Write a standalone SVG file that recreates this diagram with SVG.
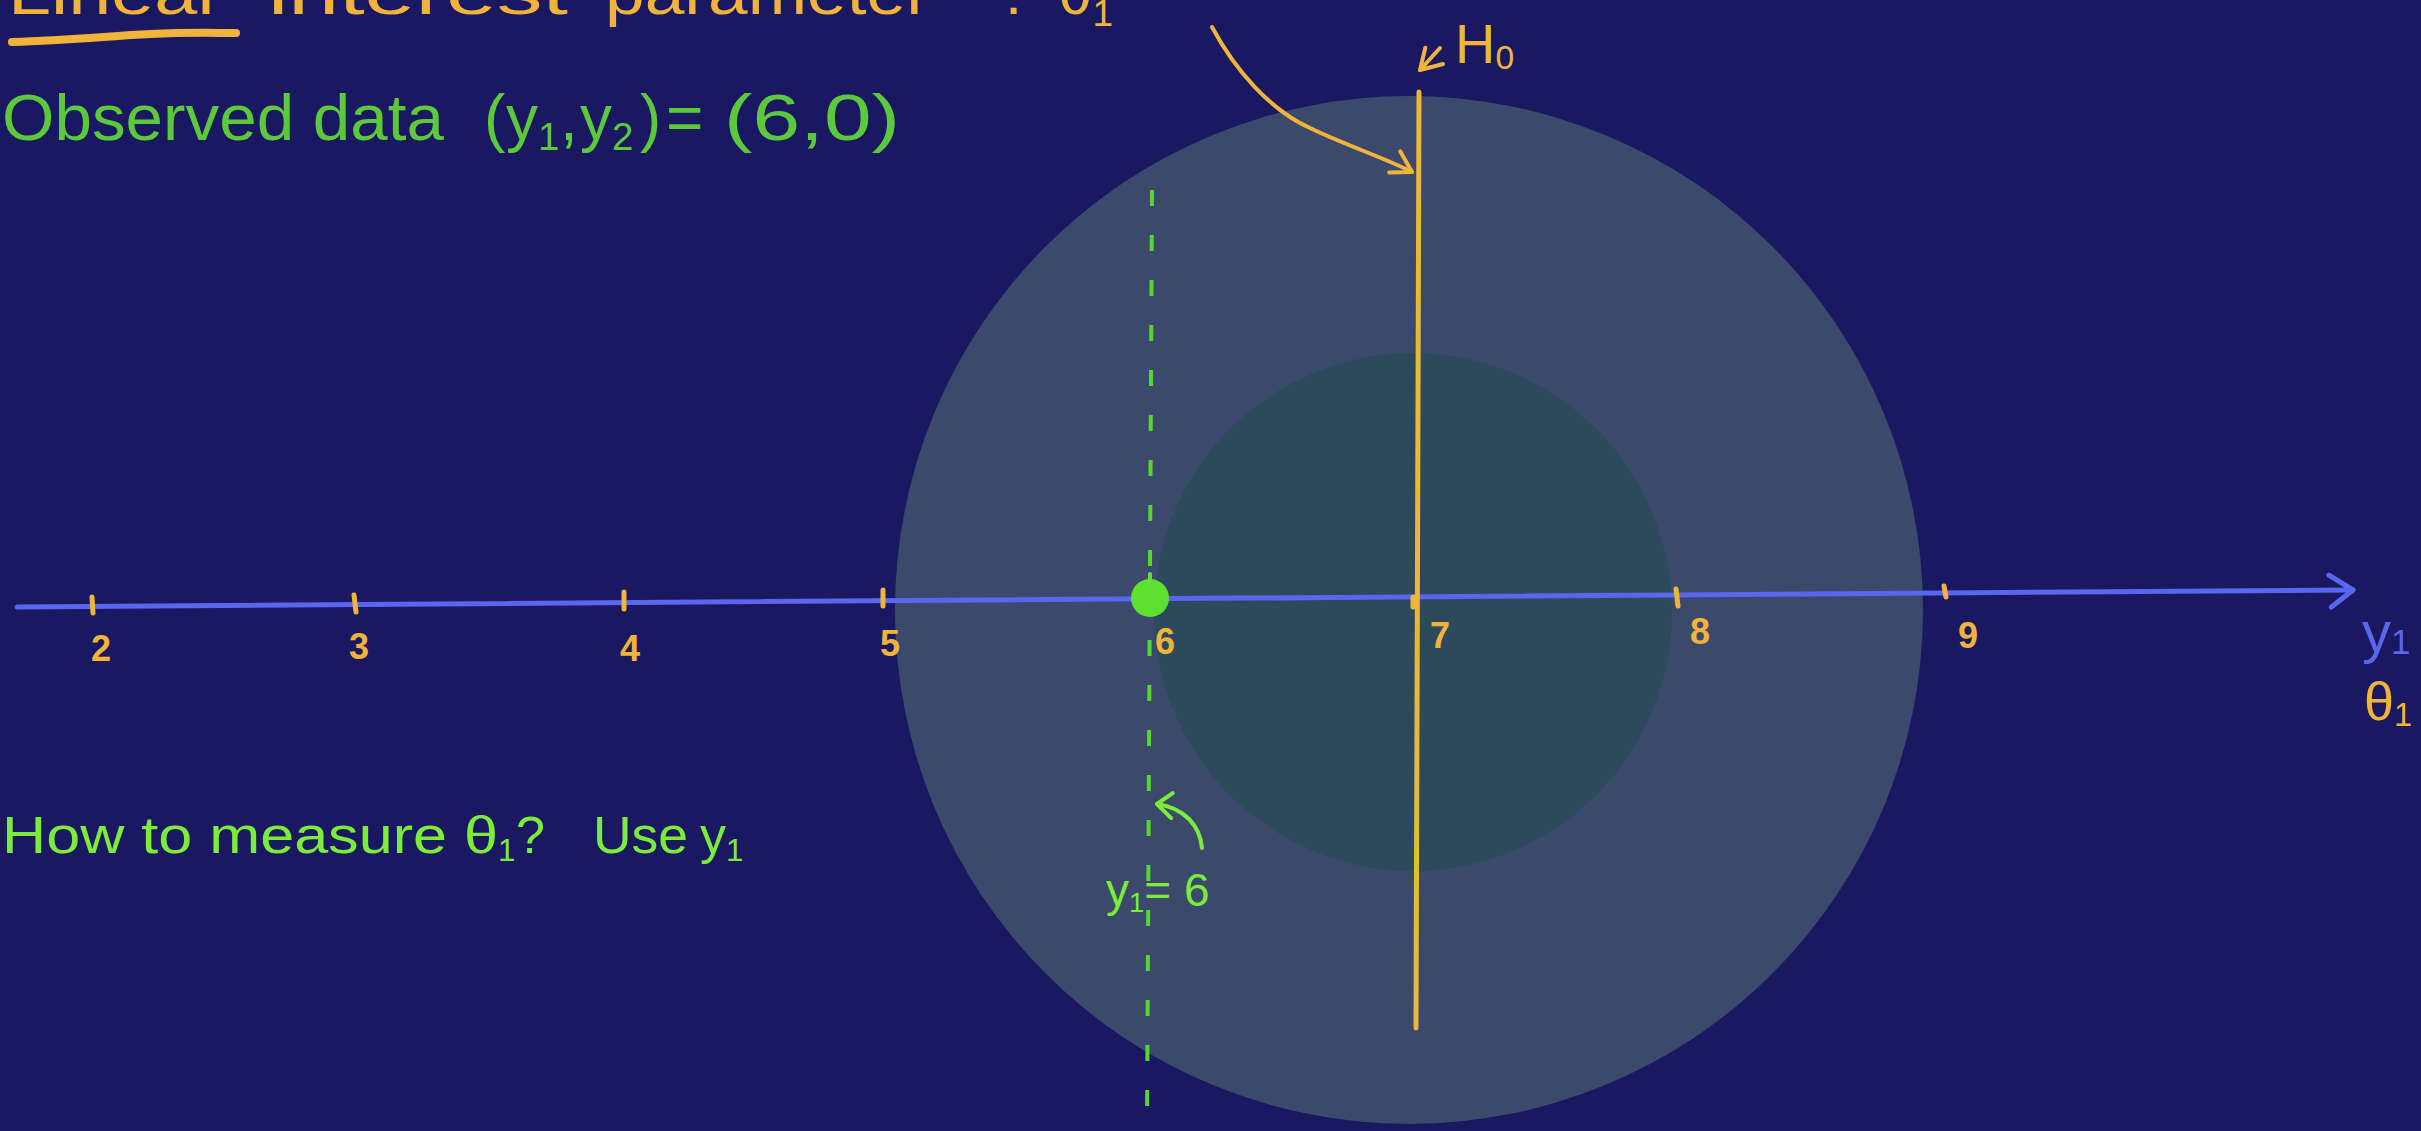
<svg xmlns="http://www.w3.org/2000/svg" width="2421" height="1131" viewBox="0 0 2421 1131">
<style>
  .hand { font-family: "Liberation Sans", "DejaVu Sans", sans-serif; }
  .orange { fill: #f0b43c; }
  .green { fill: #5cc83c; }
  .lime { fill: #7cec3a; }
  .blue { fill: #5b66ee; }
  .tick { stroke: #f0b43c; stroke-width: 5; stroke-linecap: round; fill: none; }
  .digit { font-family: "Liberation Sans", "DejaVu Sans", sans-serif; font-size: 36px; font-weight: bold; fill: #f0b43c; text-anchor: middle; }
  .sub { font-size: 0.6em; }
</style>
<defs>
  <marker id="chev-blue" markerUnits="userSpaceOnUse" orient="auto" overflow="visible" markerWidth="1" markerHeight="1" refX="0" refY="0">
    <path d="M-24,-15 L0,0 L-22,17" fill="none" stroke="#5b66ee" stroke-width="5" stroke-linecap="round" stroke-linejoin="round"/>
  </marker>
  <marker id="chev-orange" markerUnits="userSpaceOnUse" orient="auto" overflow="visible" markerWidth="1" markerHeight="1" refX="0" refY="0">
    <path d="M-20,-13 L0,0 L-20,11" fill="none" stroke="#f0b43c" stroke-width="4" stroke-linecap="round" stroke-linejoin="round"/>
  </marker>
  <marker id="chev-green" markerUnits="userSpaceOnUse" orient="auto" overflow="visible" markerWidth="1" markerHeight="1" refX="0" refY="0">
    <path d="M-16,-12 L0,0 L-14,13" fill="none" stroke="#7cec3a" stroke-width="4" stroke-linecap="round" stroke-linejoin="round"/>
  </marker>
</defs>

<rect id="background" x="0" y="0" width="2421" height="1131" fill="#1a1860"/>

<g id="outer-region"><circle cx="1409" cy="610" r="514" fill="#3b4a6c"/></g>
<g id="inner-region"><circle cx="1413" cy="612" r="259" fill="#2d4a5c"/></g>

<g id="title">
  <text class="hand orange" y="14" font-size="62">
    <tspan x="8" textLength="215" lengthAdjust="spacingAndGlyphs">Linear</tspan>
    <tspan x="268" textLength="300" lengthAdjust="spacingAndGlyphs">interest</tspan>
    <tspan x="605" textLength="325" lengthAdjust="spacingAndGlyphs">parameter</tspan>
    <tspan x="1005">:</tspan>
    <tspan x="1058">θ</tspan><tspan class="sub" dy="12">1</tspan>
  </text>
  <path d="M12,42 C70,40 110,36 150,34 C190,32 215,33 236,33" fill="none" stroke="#f0b43c" stroke-width="8" stroke-linecap="round"/>
</g>

<g id="observed-data">
  <text class="hand green" y="140" font-size="64">
    <tspan x="2" textLength="442" lengthAdjust="spacingAndGlyphs">Observed data</tspan>
    <tspan x="484">(</tspan><tspan x="506">y</tspan><tspan class="sub" dy="10" x="538">1</tspan><tspan dy="-10" x="560">,</tspan><tspan x="580">y</tspan><tspan class="sub" dy="10" x="612">2</tspan><tspan dy="-10" x="640">)</tspan><tspan x="666">=</tspan><tspan x="724" textLength="176" lengthAdjust="spacingAndGlyphs">(6,0)</tspan>
  </text>
</g>

<g id="question">
  <text class="hand lime" y="853" font-size="52">
    <tspan x="2" textLength="496" lengthAdjust="spacingAndGlyphs">How to measure θ</tspan><tspan class="sub" dy="8">1</tspan><tspan dy="-8" x="516">?</tspan>
    <tspan x="593" textLength="95" lengthAdjust="spacingAndGlyphs">Use</tspan>
    <tspan x="700">y</tspan><tspan class="sub" dy="8">1</tspan>
  </text>
</g>

<g id="axis">
  <path d="M17,607 L2353,590" fill="none" stroke="#5b66ee" stroke-width="5" stroke-linecap="round" marker-end="url(#chev-blue)"/>
  <path class="tick" d="M92,597 L93,613"/>
  <path class="tick" d="M354,595 L356,612"/>
  <path class="tick" d="M624,592 L624,609"/>
  <path class="tick" d="M883,590 L883,606"/>
  <path class="tick" d="M1413,597 L1413,607"/>
  <path class="tick" d="M1676,589 L1678,606"/>
  <path class="tick" d="M1944,586 L1946,597"/>
  <text class="digit" x="101" y="661">2</text>
  <text class="digit" x="359" y="659">3</text>
  <text class="digit" x="630" y="661">4</text>
  <text class="digit" x="890" y="656">5</text>
  <text class="digit" x="1165" y="654">6</text>
  <text class="digit" x="1440" y="648">7</text>
  <text class="digit" x="1700" y="644">8</text>
  <text class="digit" x="1968" y="648">9</text>
  <text class="hand blue" x="2362" y="652" font-size="58">y<tspan class="sub" dy="2">1</tspan></text>
  <text class="hand orange" x="2364" y="720" font-size="54">θ<tspan class="sub" dy="6">1</tspan></text>
</g>

<g id="h0-line">
  <path d="M1419,92 L1416,1028" fill="none" stroke="#e8b838" stroke-width="5" stroke-linecap="round"/>
  <text class="hand orange" x="1455" y="63" font-size="56">H<tspan class="sub" dy="6">0</tspan></text>
</g>

<g id="observed-y1-line">
  <path d="M1152,190 L1147,1131" fill="none" stroke="#55d82e" stroke-width="4" stroke-dasharray="16 29"/>
  <text class="hand lime" x="1106" y="906" font-size="46">y<tspan class="sub" dy="6">1</tspan><tspan dy="-6">= 6</tspan></text>
</g>

<g id="observed-point">
  <path d="M1150,574 L1150,584" stroke="#5ee030" stroke-width="4" stroke-linecap="round"/>
  <circle cx="1150" cy="598" r="19" fill="#5ee030"/>
</g>

<g id="connectors">
  <path id="arrow-to-h0" d="M1212,27 C1235,70 1270,110 1310,128 C1345,145 1385,158 1412,172" fill="none" stroke="#f0b43c" stroke-width="4" stroke-linecap="round" marker-end="url(#chev-orange)"/>
  <path id="arrow-h0-label" d="M1440,48 L1420,70" fill="none" stroke="#f0b43c" stroke-width="4" stroke-linecap="round" marker-end="url(#chev-orange)"/>
  <path id="arrow-y1" d="M1202,848 C1200,826 1185,808 1157,804" fill="none" stroke="#7cec3a" stroke-width="4" stroke-linecap="round" marker-end="url(#chev-green)"/>
</g>
</svg>
